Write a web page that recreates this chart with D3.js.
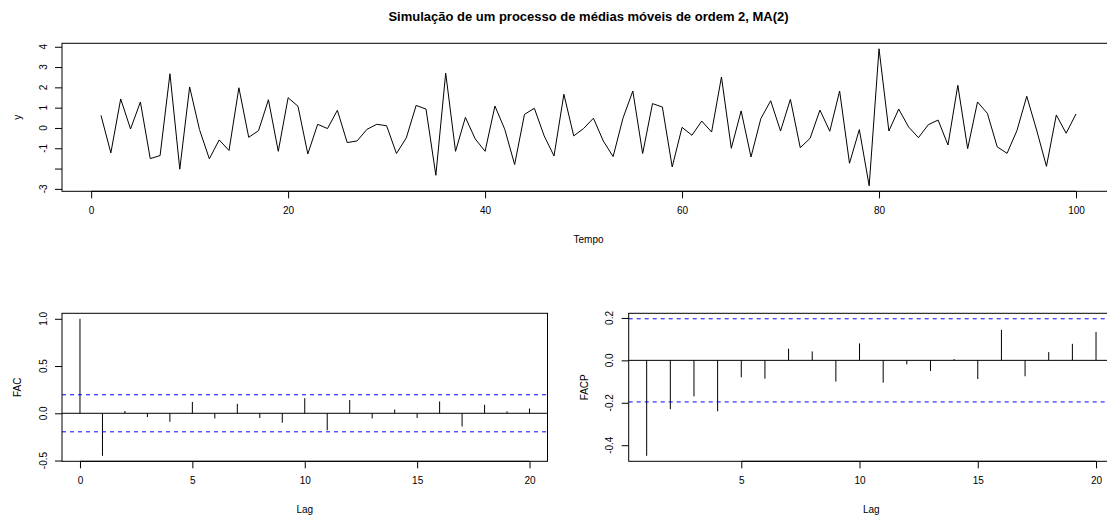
<!DOCTYPE html>
<html>
<head>
<meta charset="utf-8">
<script src="https://cdn.jsdelivr.net/npm/d3@7"></script>
<style>
  body { margin: 0; background: #ffffff; }
  svg { display: block; }
  text { font-family: "Liberation Sans", Arial, Helvetica, sans-serif; fill: #000; }
</style>
</head>
<body>
<svg id="chart" width="1107" height="515"></svg>
<script>
// ---------------- DATA ----------------
const chartTitle = "Simulação de um processo de médias móveis de ordem 2, MA(2)";

const timeIndex = d3.range(1, 101);
const seriesY = [
   0.62, -1.23,  1.43, -0.05,  1.28, -1.51, -1.36,  2.67, -2.03,  2.02,
  -0.08, -1.52, -0.59, -1.11,  1.98, -0.46, -0.13,  1.39, -1.15,  1.49,
   1.07, -1.28,  0.18, -0.03,  0.87, -0.72, -0.64, -0.07,  0.18,  0.11,
  -1.26, -0.49,  1.11,  0.93, -2.33,  2.70, -1.15,  0.52, -0.54, -1.15,
   1.08, -0.07, -1.80,  0.67,  0.97, -0.39, -1.38,  1.66, -0.39, -0.03,
   0.48, -0.64, -1.41,  0.48,  1.82, -1.26,  1.20,  1.03, -1.92,  0.03,
  -0.36,  0.34, -0.20,  2.51, -1.00,  0.84, -1.43,  0.46,  1.34, -0.15,
   1.41, -0.97, -0.51,  0.88, -0.16,  1.82, -1.74, -0.08, -2.85,  3.90,
  -0.15,  0.93,  0.05, -0.48,  0.16,  0.39, -0.84,  2.10, -1.02,  1.28,
   0.72, -0.93, -1.25, -0.13,  1.56, -0.10, -1.89,  0.64, -0.26,  0.69
];
const topXTicks = [0, 20, 40, 60, 80, 100];
const topYTicks = [-3, -2, -1, 0, 1, 2, 3, 4];
const topYTickLabels = ["-3", "", "-1", "0", "1", "2", "3", "4"];
const topXLabel = "Tempo";
const topYLabel = "y";

const acfLags = d3.range(0, 21);
const acfValues = [
  1.00, -0.45, 0.025, -0.04, -0.09, 0.12, -0.055, 0.10, -0.05, -0.10,
  0.16, -0.18, 0.14, -0.055, 0.04, -0.05, 0.125, -0.14, 0.09, 0.02, 0.05
];
const acfXTicks = [0, 5, 10, 15, 20];
const acfYTicks = [-0.5, 0, 0.5, 1];
const acfYTickLabels = ["-0.5", "0.0", "0.5", "1.0"];
const acfYLabel = "FAC";

const pacfLags = d3.range(1, 21);
const pacfValues = [
  -0.45, -0.23, -0.17, -0.24, -0.08, -0.086, 0.055, 0.042, -0.10, 0.08,
  -0.105, -0.019, -0.05, 0.006, -0.088, 0.144, -0.075, 0.039, 0.078, 0.134
];
const pacfXTicks = [5, 10, 15, 20];
const pacfYTicks = [-0.4, -0.2, 0, 0.2];
const pacfYTickLabels = ["-0.4", "-0.2", "0.0", "0.2"];
const pacfYLabel = "FACP";
const lagLabel = "Lag";

const nObs = 100;
const clim = 1.96 / Math.sqrt(nObs);

// ---------------- LAYOUT ----------------
const svg = d3.select("#chart");
const FS = 10;

function rRange(lo, hi) {
  const e = 0.04 * (hi - lo);
  return [lo - e, hi + e];
}

function panel(box, xDom, yDom, xTicks, yTicks, yTickLabels, xLab, yLab) {
  const x = d3.scaleLinear().domain(xDom).range([box.l, box.r]);
  const y = d3.scaleLinear().domain(yDom).range([box.b, box.t]);
  const g = svg.append("g");

  const xa = g.append("g").attr("transform", `translate(0,${box.b})`)
    .call(d3.axisBottom(x).tickValues(xTicks).tickSize(7).tickSizeOuter(0)
      .tickPadding(8.5).tickFormat(d3.format("d")));
  xa.select(".domain").remove();
  xa.selectAll("line").attr("stroke", "#000");
  xa.selectAll("text").attr("font-size", FS).attr("font-family", null);
  g.append("line").attr("x1", x(xTicks[0])).attr("x2", x(xTicks[xTicks.length - 1]))
    .attr("y1", box.b).attr("y2", box.b).attr("stroke", "#000");

  const ya = g.append("g").attr("transform", `translate(${box.l},0)`)
    .call(d3.axisLeft(y).tickValues(yTicks).tickSize(7).tickSizeOuter(0).tickFormat(""));
  ya.select(".domain").remove();
  ya.selectAll("line").attr("stroke", "#000");
  yTicks.forEach((v, i) => {
    g.append("text")
      .attr("transform", `translate(${box.l - 15.3},${y(v)}) rotate(-90)`)
      .attr("text-anchor", "middle")
      .attr("font-size", FS)
      .text(yTickLabels[i]);
  });

  g.append("text").attr("x", (box.l + box.r) / 2).attr("y", box.b + 52)
    .attr("text-anchor", "middle").attr("font-size", FS).text(xLab);
  g.append("text")
    .attr("transform", `translate(${box.l - 40.8},${(box.t + box.b) / 2}) rotate(-90)`)
    .attr("text-anchor", "middle").attr("font-size", FS).text(yLab);

  return { x, y, g, box };
}

function drawBox(p) {
  p.g.append("rect").attr("x", p.box.l).attr("y", p.box.t)
    .attr("width", p.box.r - p.box.l).attr("height", p.box.b - p.box.t)
    .attr("fill", "none").attr("stroke", "#000").attr("stroke-width", 1);
}

// ---------------- TOP: time series ----------------
const tsBox = { l: 62, r: 1115, t: 43.3, b: 191.3 };
const tsExt = d3.extent(seriesY);
const tsPanel = panel(tsBox, rRange(1, nObs), rRange(tsExt[0], tsExt[1]),
  topXTicks, topYTicks, topYTickLabels, topXLabel, topYLabel);
tsPanel.g.append("path")
  .datum(timeIndex.map((t, i) => [t, seriesY[i]]))
  .attr("fill", "none").attr("stroke", "#000").attr("stroke-width", 1)
  .attr("stroke-linejoin", "miter")
  .attr("d", d3.line().x(d => tsPanel.x(d[0])).y(d => tsPanel.y(d[1])));
drawBox(tsPanel);

svg.append("text").attr("x", (tsBox.l + tsBox.r) / 2).attr("y", 20.5)
  .attr("text-anchor", "middle").attr("font-size", 13).attr("font-weight", "bold")
  .text(chartTitle);

// ---------------- ACF / PACF ----------------
function corrPanel(box, lags, vals, xTicks, yTicks, yTickLabels, yLab, yMax) {
  const lo = Math.min(d3.min(vals), -clim);
  const hi = yMax !== undefined ? yMax : Math.max(d3.max(vals), clim);
  const p = panel(box, rRange(d3.min(lags), d3.max(lags)), rRange(lo, hi),
    xTicks, yTicks, yTickLabels, lagLabel, yLab);
  p.g.append("line").attr("x1", box.l).attr("x2", box.r)
    .attr("y1", p.y(0)).attr("y2", p.y(0)).attr("stroke", "#000");
  p.g.selectAll("line.bar").data(lags.map((l, i) => [l, vals[i]])).enter()
    .append("line").attr("class", "bar")
    .attr("x1", d => p.x(d[0])).attr("x2", d => p.x(d[0]))
    .attr("y1", p.y(0)).attr("y2", d => p.y(d[1]))
    .attr("stroke", "#000").attr("stroke-width", 1);
  [clim, -clim].forEach(c => {
    p.g.append("line").attr("x1", box.l).attr("x2", box.r)
      .attr("y1", p.y(c)).attr("y2", p.y(c))
      .attr("stroke", "#0000ff").attr("stroke-width", 1)
      .attr("stroke-dasharray", "4,4");
  });
  drawBox(p);
  return p;
}

corrPanel({ l: 62, r: 547.5, t: 313.3, b: 461.3 }, acfLags, acfValues,
  acfXTicks, acfYTicks, acfYTickLabels, acfYLabel, 1);
corrPanel({ l: 628.7, r: 1114, t: 313.3, b: 461.3 }, pacfLags, pacfValues,
  pacfXTicks, pacfYTicks, pacfYTickLabels, pacfYLabel);
</script>
</body>
</html>
